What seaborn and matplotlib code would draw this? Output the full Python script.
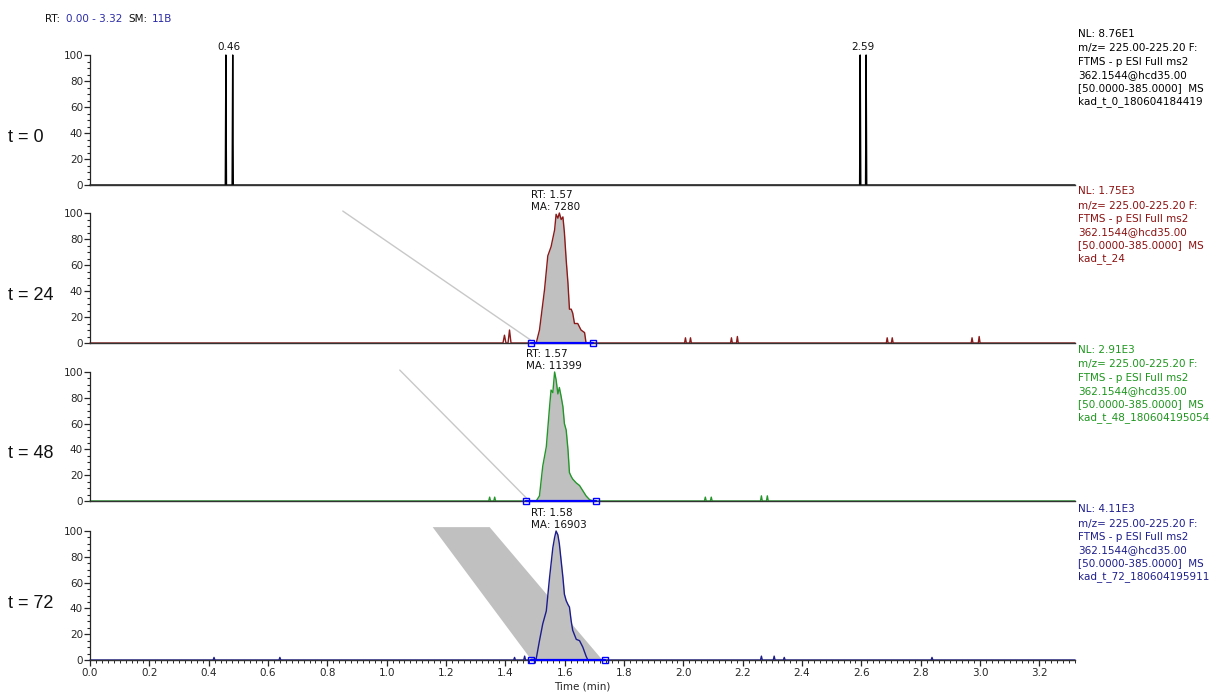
import numpy as np
import pandas as pd
import matplotlib
matplotlib.use("Agg")
import matplotlib.pyplot as plt
import seaborn as sns
from matplotlib.ticker import MultipleLocator

# ---------------- data ----------------
panel_labels = ["t = 0", "t = 24", "t = 48", "t = 72"]
trace_colors = ["#000000", "#8B1A1A", "#23962A", "#1C1C8E"]
text_colors = ["#000000", "#8B1111", "#1E961E", "#1E1E8C"]
nl_values = ["NL: 8.76E1", "NL: 1.75E3", "NL: 2.91E3", "NL: 4.11E3"]
file_names = ["kad_t_0_180604184419", "kad_t_24",
              "kad_t_48_180604195054", "kad_t_72_180604195911"]
scan_lines = ["m/z= 225.00-225.20 F:", "FTMS - p ESI Full ms2",
              "362.1544@hcd35.00", "[50.0000-385.0000]  MS"]

# t = 0 trace
time_0 = [0.00, 0.456, 0.458, 0.460, 0.479, 0.481, 0.483,
          2.594, 2.596, 2.598, 2.614, 2.616, 2.618, 3.32]
int_0 = [0, 0, 100, 0, 0, 100, 0,
         0, 100, 0, 0, 100, 0, 0]
spike_label_time = [0.469, 2.605]
spike_label_text = ["0.46", "2.59"]

# t = 24 trace
time_24 = [0.00, 1.392, 1.397, 1.402, 1.409, 1.414, 1.419,
           1.504, 1.515, 1.532, 1.543, 1.554, 1.566, 1.571, 1.577, 1.582,
           1.588, 1.594, 1.599, 1.605, 1.611, 1.616, 1.622, 1.627, 1.633,
           1.644, 1.655, 1.667, 1.672,
           2.004, 2.007, 2.010, 2.021, 2.024, 2.027,
           2.159, 2.162, 2.165, 2.179, 2.182, 2.185,
           2.684, 2.687, 2.690, 2.701, 2.704, 2.707,
           2.970, 2.973, 2.976, 2.994, 2.997, 3.000, 3.32]
int_24 = [0, 0, 6, 0, 0, 10, 0,
          0, 10, 41, 67, 74, 87, 99, 96, 100,
          95, 97, 85, 64, 46, 26, 26, 23, 15,
          15, 10, 8, 0,
          0, 4, 0, 0, 4, 0,
          0, 4, 0, 0, 5, 0,
          0, 4, 0, 0, 4, 0,
          0, 4, 0, 0, 5, 0, 0]

# t = 48 trace
time_48 = [0.00, 1.344, 1.347, 1.350, 1.361, 1.364, 1.367,
           1.504, 1.515, 1.526, 1.538, 1.549, 1.554, 1.560, 1.566, 1.571,
           1.577, 1.582, 1.588, 1.594, 1.599, 1.605, 1.611, 1.616, 1.622,
           1.627, 1.639, 1.650, 1.661, 1.672, 1.684, 1.695,
           2.071, 2.074, 2.077, 2.091, 2.094, 2.097,
           2.260, 2.263, 2.266, 2.280, 2.283, 2.286, 3.32]
int_48 = [0, 0, 3, 0, 0, 3, 0,
          0, 4, 27, 42, 73, 86, 84, 100, 94,
          83, 88, 81, 73, 60, 55, 40, 22, 19,
          17, 14, 12, 8, 4, 1, 0,
          0, 3, 0, 0, 3, 0,
          0, 4, 0, 0, 4, 0, 0]

# t = 72 trace
time_72 = [0.00, 0.415, 0.418, 0.421, 0.637, 0.640, 0.643,
           1.428, 1.431, 1.434, 1.462, 1.465, 1.468,
           1.493, 1.504, 1.515, 1.526, 1.538, 1.549, 1.560, 1.566, 1.571,
           1.577, 1.582, 1.588, 1.594, 1.599, 1.605, 1.611, 1.616, 1.622,
           1.627, 1.639, 1.650, 1.661, 1.672, 1.678,
           2.260, 2.263, 2.266, 2.303, 2.306, 2.309, 2.337, 2.340, 2.343,
           2.835, 2.838, 2.841, 3.32]
int_72 = [0, 0, 2, 0, 0, 2, 0,
          0, 2, 0, 0, 3, 0,
          0, 1, 15, 28, 38, 64, 87, 95, 100,
          97, 90, 77, 64, 51, 46, 43, 41, 30,
          23, 16, 15, 10, 3, 0,
          0, 3, 0, 0, 3, 0, 0, 2, 0,
          0, 2, 0, 0]

peak_rt = [None, "RT: 1.57", "RT: 1.57", "RT: 1.58"]
peak_ma = [None, "MA: 7280", "MA: 11399", "MA: 16903"]
baseline_start = [None, 1.485, 1.471, 1.488]
baseline_end = [None, 1.694, 1.704, 1.737]

# leader lines (panels 2,3) and shaded band (panel 4)
leader_x = [None, [0.852, 1.485], [1.044, 1.471], None]
leader_y = [None, [101.5, 2.3], [101.5, 2.3], None]
band_x = [1.155, 1.347, 1.727, 1.488]
band_y = [103, 103, 0, 0]

times = [time_0, time_24, time_48, time_72]
ints = [int_0, int_24, int_48, int_72]

# ---------------- figure ----------------
sns.set_style("ticks")
plt.rcParams["font.family"] = ["DejaVu Sans"]
SMALL = 7.5

W, H = 1212, 695
fig = plt.figure(figsize=(W / 100, H / 100), dpi=100)

def fx(px):
    return px / W

def fy(py):
    return 1 - py / H

panel_px = [(55, 185), (213, 343), (372, 501), (531, 660)]
left_px, right_px = 90, 1075
label_y_px = [137, 296, 454, 604]
nl_y_px = [34, 191, 350, 509]
fill_grey = "#C0C0C0"

axes = []
for i, (top, bot) in enumerate(panel_px):
    ax = fig.add_axes([fx(left_px), fy(bot), fx(right_px - left_px), (bot - top) / H])
    axes.append(ax)
    df = pd.DataFrame({"time": times[i], "intensity": ints[i]})
    t_arr = np.array(times[i])
    y_arr = np.array(ints[i])

    if i == 3:
        ax.fill(band_x, band_y, color=fill_grey, lw=0, zorder=1, clip_on=False)
    if i > 0:
        mask = (t_arr >= baseline_start[i]) & (t_arr <= baseline_end[i])
        ax.fill_between(t_arr[mask], 0, y_arr[mask], color=fill_grey, lw=0, zorder=1)
        if leader_x[i] is not None:
            ax.plot(leader_x[i], leader_y[i], color="#C8C8C8", lw=1.0, zorder=1,
                    clip_on=False)

    sns.lineplot(data=df, x="time", y="intensity", ax=ax, color=trace_colors[i],
                 lw=1.0, estimator=None, sort=False, zorder=2)

    if i > 0:
        ax.plot([baseline_start[i], baseline_end[i]], [0, 0], color="#0000FF",
                lw=1.6, marker="s", ms=4, mfc="none", mec="#0000FF", mew=1.0,
                zorder=3, clip_on=False)
        ax.annotate(peak_rt[i] + "\n" + peak_ma[i], xy=(baseline_start[i], 100),
                    xytext=(0, 1), textcoords="offset points", ha="left",
                    va="bottom", fontsize=SMALL, linespacing=1.15, color="#111111",
                    annotation_clip=False)
    else:
        for tt, lab in zip(spike_label_time, spike_label_text):
            ax.annotate(lab, xy=(tt, 100), xytext=(0, 2), textcoords="offset points",
                        ha="center", va="bottom", fontsize=SMALL, color="#111111",
                        annotation_clip=False)

    for ln in ax.lines:
        ln.set_clip_on(False)

    ax.set_xlim(0, 3.32)
    ax.set_ylim(0, 100)
    ax.set_xlabel("")
    ax.set_ylabel("")
    ax.yaxis.set_major_locator(MultipleLocator(20))
    ax.yaxis.set_minor_locator(MultipleLocator(5))
    ax.tick_params(axis="y", which="major", length=4, width=0.9, labelsize=SMALL, pad=1)
    ax.tick_params(axis="y", which="minor", length=2, width=0.8)
    for s in ["top", "right"]:
        ax.spines[s].set_visible(False)
    ax.spines["left"].set_linewidth(0.9)
    ax.spines["bottom"].set_linewidth(1.0)
    ax.spines["bottom"].set_color("#333333")
    ax.set_facecolor("none")
    if i < 3:
        ax.tick_params(axis="x", which="both", bottom=False, labelbottom=False)
    else:
        ax.xaxis.set_major_locator(MultipleLocator(0.2))
        ax.xaxis.set_minor_locator(MultipleLocator(0.02))
        ax.xaxis.set_major_formatter(matplotlib.ticker.FormatStrFormatter("%.1f"))
        ax.tick_params(axis="x", which="major", length=4, width=0.9, labelsize=SMALL, pad=2)
        ax.tick_params(axis="x", which="minor", length=2, width=0.7)
        ax.set_xlabel("Time (min)", fontsize=SMALL, labelpad=2)

    # left panel labels
    fig.text(fx(8), fy(label_y_px[i]), panel_labels[i], fontsize=13, va="center",
             ha="left", color="#111111", family="Liberation Sans")

    # right info block
    block = [nl_values[i]] + scan_lines + [file_names[i]]
    for k, line in enumerate(block):
        yk = nl_y_px[i] + (14.5 if k > 0 else 0) + 13.3 * max(k - 1, 0)
        fig.text(fx(1078), fy(yk), line, fontsize=SMALL,
                 va="center", ha="left", color=text_colors[i])

# header
hdr = [("RT:", 45, "#111111"), ("0.00 - 3.32", 66.5, "#2B2BA8"),
       ("SM:", 128, "#111111"), ("11B", 152, "#2B2BA8")]
for s, xp, c in hdr:
    fig.text(fx(xp), fy(19), s, fontsize=SMALL, va="center", ha="left", color=c)

fig.savefig("out.png", dpi=100)
